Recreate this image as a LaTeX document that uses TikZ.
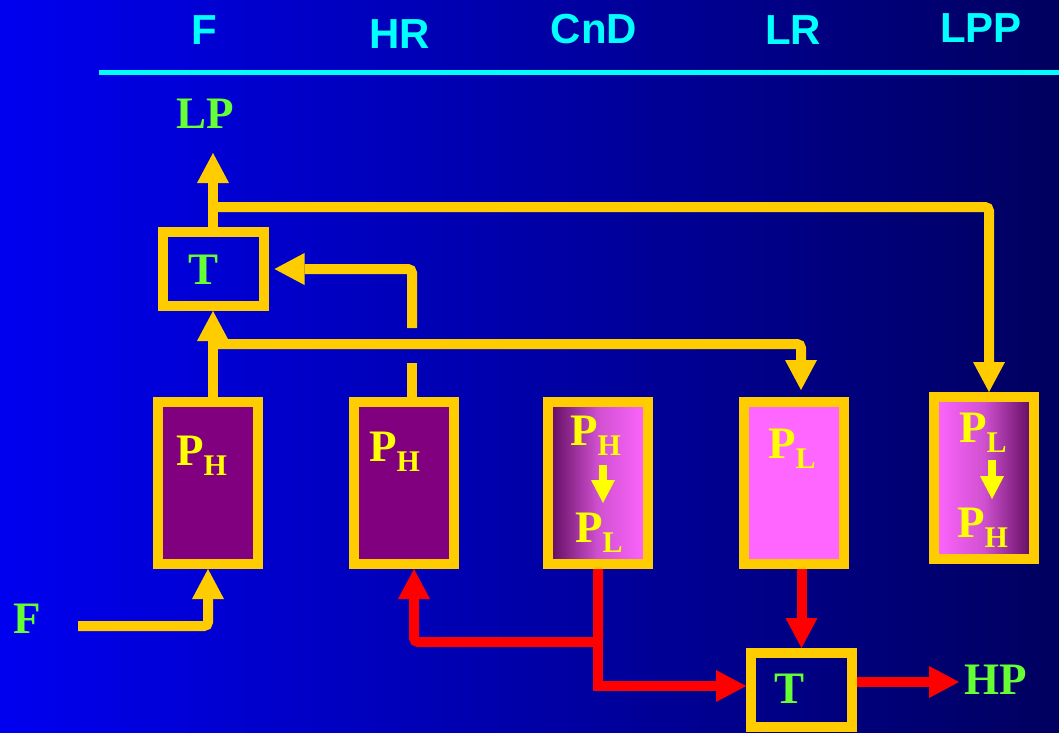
\documentclass[tikz,border=0pt]{standalone}
\usepackage{fontspec}
\setmainfont{Liberation Serif}
\newfontfamily\hdrfont{Liberation Sans}
\usetikzlibrary{arrows.meta}
\pgfdeclarelayer{bgl}
\pgfdeclarelayer{conn}
\pgfsetlayers{bgl,conn,main}
\definecolor{boxy}{HTML}{FFCC00}
\definecolor{gtext}{HTML}{66FF33}
\definecolor{ptext}{HTML}{FFFF00}
\definecolor{hcyan}{HTML}{00FFFF}
\definecolor{purp}{HTML}{800080}
\definecolor{pinkc}{HTML}{FF66FF}
\definecolor{darkp}{HTML}{5C0A5C}
\definecolor{midp}{HTML}{D050D0}
\definecolor{bgleft}{RGB}{0,0,240}
\definecolor{bgright}{RGB}{0,0,95}
\definecolor{redl}{HTML}{FF0000}
\newcommand\Psub[2]{#1\raisebox{-10pt}{\fontsize{30}{30}\selectfont #2}}
\begin{document}
\begin{tikzpicture}[x=1pt,y=-1pt,
 box/.style={draw=boxy,line width=10pt,minimum width=100pt,minimum height=162pt,inner sep=0pt},
 tbox/.style={draw=boxy,line width=10pt,minimum width=101pt,minimum height=74pt,inner sep=0pt},
 hdr/.style={text=hcyan,font=\hdrfont\bfseries\fontsize{42}{42}\selectfont,anchor=base,inner sep=0pt},
 glabel/.style={text=gtext,font=\bfseries\fontsize{45}{45}\selectfont,anchor=base,inner sep=0pt},
 plabel/.style={text=ptext,font=\bfseries\fontsize{45}{45}\selectfont,anchor=base west,inner sep=0pt},
 yline/.style={draw=boxy,line width=10pt},
 rline/.style={draw=redl,line width=10pt},
 bigarrow/.style={-{Triangle[length=30pt,width=32pt,line width=0pt]}},
 smallarrow/.style={draw=ptext,line width=8pt,-{Triangle[length=23pt,width=24pt,line width=0pt]}},
]
\useasboundingbox (0,0) rectangle (1059,732);
\begin{pgfonlayer}{bgl}
\shade[left color=bgleft,right color=bgright] (0,0) rectangle (1059,732);
\end{pgfonlayer}

% header
\node[hdr] (hF) at (204,44) {F};
\node[hdr] (hHR) at (400,48) {HR};
\node[hdr] (hCnD) at (594,43) {CnD};
\node[hdr] (hLR) at (793,44) {LR};
\node[hdr] (hLPP) at (981,42) {LPP};
\coordinate (hlineL) at (99,72);
\coordinate (hlineR) at (1059,72);
\draw[hcyan,line width=5pt] (hlineL) -- (hlineR);

% boxes
\node[box,fill=purp] (B1) at (208,483) {};
\node[box,fill=purp] (B2) at (404,483) {};
\node[box,left color=darkp,right color=pinkc,middle color=midp] (B3) at (598,483) {};
\node[box,fill=pinkc] (B4) at (794,483) {};
\node[box,left color=pinkc,right color=darkp,middle color=midp] (B5) at (984,478) {};
\node[tbox] (T1) at (213,269) {};
\node[tbox] (T2) at (801.5,690) {};

% labels
\node[glabel] (LP) at (205,128) {LP};
\node[glabel] (Fl) at (27,633) {F};
\node[glabel] (HP) at (996,694) {HP};
\node[glabel] (T1t) at (204,284) {T};
\node[glabel] (T2t) at (789,703) {T};
\node[plabel] (p1) at (176,465) {\Psub{P}{H}};
\node[plabel] (p2) at (369,461) {\Psub{P}{H}};
\node[plabel] (p3a) at (570,445) {\Psub{P}{H}};
\node[plabel] (p3b) at (575,542) {\Psub{P}{L}};
\node[plabel] (p4) at (768,458) {\Psub{P}{L}};
\node[plabel] (p5a) at (959,442) {\Psub{P}{L}};
\node[plabel] (p5b) at (957,537) {\Psub{P}{H}};

% small arrows inside boxes
\coordinate (a3s) at (603,465);
\coordinate (a3e) at (603,503);
\coordinate (a5s) at (992,460);
\coordinate (a5e) at (992,499);
\draw[smallarrow] (a3s) -- (a3e);
\draw[smallarrow] (a5s) -- (a5e);

\coordinate (lptip) at (213,153);
\coordinate (fstart) at (78,626);
\coordinate (hptip) at (959,682);

\begin{pgfonlayer}{conn}
% yellow
\draw[yline,bigarrow,rounded corners=4pt] (fstart) -| (B1.south);
\draw[yline,bigarrow] (T1.south |- B1.north) -- (T1.south);
\draw[yline,bigarrow] (T1.north) -- (lptip);
\draw[yline,bigarrow,rounded corners=4pt] (T1.north |- 0,207) -| ([xshift=5pt]B5.north);
\draw[yline,bigarrow,rounded corners=4pt,shorten >=7pt] (T1.south |- 0,344) -| ([xshift=7pt]B4.north);
\draw[yline] ([xshift=8pt]B2.north) -- ([xshift=8pt]B2.north |- 0,363);
\draw[yline,bigarrow,rounded corners=4pt,shorten >=6pt] ([xshift=8pt]B2.north |- 0,328) |- (T1.east);
% red
\coordinate (rj) at (B3.south |- 0,642);
\draw[rline,bigarrow,rounded corners=4pt] (B3.south) -- (rj) -| ([xshift=10pt]B2.south);
\draw[rline,bigarrow] (B3.south) |- ([yshift=4pt]T2.west);
\draw[rline,bigarrow] (T2.north |- B4.south) -- (T2.north);
\draw[rline,bigarrow] ([yshift=8pt]T2.east) -- (hptip);
\end{pgfonlayer}
\end{tikzpicture}
\end{document}
